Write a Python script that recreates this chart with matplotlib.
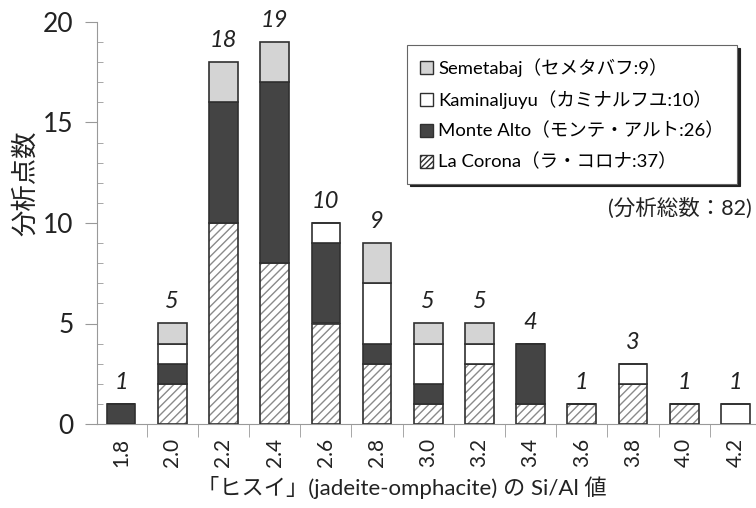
import numpy as np
import matplotlib
matplotlib.use("Agg")
from matplotlib import pyplot as plt
from matplotlib.patches import Patch

plt.rcParams['font.family'] = ['Lato', 'Noto Sans CJK JP', 'DejaVu Sans']

# data
si_al = ["1.8", "2.0", "2.2", "2.4", "2.6", "2.8", "3.0", "3.2", "3.4", "3.6", "3.8", "4.0", "4.2"]
la_corona = [0, 2, 10, 8, 5, 3, 1, 3, 1, 1, 2, 1, 0]
monte_alto = [1, 1, 6, 9, 4, 1, 1, 0, 3, 0, 0, 0, 0]
kaminaljuyu = [0, 1, 0, 0, 1, 3, 2, 1, 0, 0, 1, 0, 1]
semetabaj = [0, 1, 2, 2, 0, 2, 1, 1, 0, 0, 0, 0, 0]

labels = ["La Corona（ラ・コロナ:37）", "Monte Alto（モンテ・アルト:26）",
          "Kaminaljuyu（カミナルフユ:10）", "Semetabaj（セメタバフ:9）"]
total_text = "(分析総数：82)"

fig = plt.figure(figsize=(7.56, 5.08), dpi=100)
ax = fig.add_axes([97/756, 1 - 424/508, 1 - 97/756 + 0.01, (424 - 22)/508])

x = np.arange(len(si_al))
w = 0.56
edge = "#303030"
lc = np.array(la_corona)
ma = np.array(monte_alto)
km = np.array(kaminaljuyu)
sm = np.array(semetabaj)

# hatched bottom segment (hatch lines grey, outline dark)
ax.bar(x, lc, w, color="white", edgecolor="#8a8a8a", hatch="////", linewidth=0, zorder=2)
ax.bar(x, lc, w, fill=False, edgecolor=edge, linewidth=1.2, zorder=3)
ax.bar(x, ma, w, bottom=lc, color="#444444", edgecolor=edge, linewidth=1.2, zorder=3)
ax.bar(x, km, w, bottom=lc + ma, color="white", edgecolor=edge, linewidth=1.2, zorder=3)
ax.bar(x, sm, w, bottom=lc + ma + km, color="#d4d4d4", edgecolor=edge, linewidth=1.2, zorder=3)

totals = lc + ma + km + sm
for xi, t in zip(x, totals):
    ax.text(xi, t + 0.55, str(t), ha="center", va="bottom", fontsize=17,
            style="italic", color="#222222")

ax.set_xlim(-0.47, 12.55)
ax.set_ylim(0, 20)
ax.set_yticks([0, 5, 10, 15, 20])
ax.set_yticks(np.arange(0, 21, 1), minor=True)
ax.set_xticks(x)
ax.set_xticklabels(si_al, rotation=90, fontsize=15, color="#222222")
ax.tick_params(axis="x", length=0, pad=10)
ax.set_xticks(x[:-1] + 0.5, minor=True)
ax.tick_params(axis="x", which="minor", length=9, direction="out", color="#999999")
ax.tick_params(axis="y", which="major", length=9, direction="out", color="#999999",
               labelsize=19, labelcolor="#222222", pad=8)
ax.tick_params(axis="y", which="minor", length=4, direction="in", color="#999999")

for s in ["top", "right"]:
    ax.spines[s].set_visible(False)
ax.spines["left"].set_color("#999999")
ax.spines["bottom"].set_color("#999999")

ax.set_ylabel("分析点数", fontsize=19, color="#222222")
ax.yaxis.set_label_coords(-0.088, 0.6)
ax.set_xlabel("「ヒスイ」(jadeite-omphacite) の Si/Al 値", fontsize=16, color="#222222")
ax.xaxis.set_label_coords(0.458, -0.13)

handles = [Patch(facecolor="#d4d4d4", edgecolor=edge, label=labels[3]),
           Patch(facecolor="white", edgecolor=edge, label=labels[2]),
           Patch(facecolor="#444444", edgecolor=edge, label=labels[1]),
           Patch(facecolor="white", edgecolor=edge, hatch="//////", label=labels[0])]
leg = fig.legend(handles=handles, loc="upper left", bbox_to_anchor=(407/756, 1 - 45/508),
                 fontsize=13.3, frameon=True, fancybox=False, shadow={"color": "#222222", "alpha": 1},
                 handlelength=0.7, handleheight=0.7, handletextpad=0.3, labelspacing=0.72,
                 borderpad=0.7, borderaxespad=0, edgecolor="#666666")
leg.get_frame().set_linewidth(0.8)

fig.text(752/756, 1 - 208/508, total_text, ha="right", va="center", fontsize=15.5, color="#222222")

fig.savefig("out.png", dpi=100)
